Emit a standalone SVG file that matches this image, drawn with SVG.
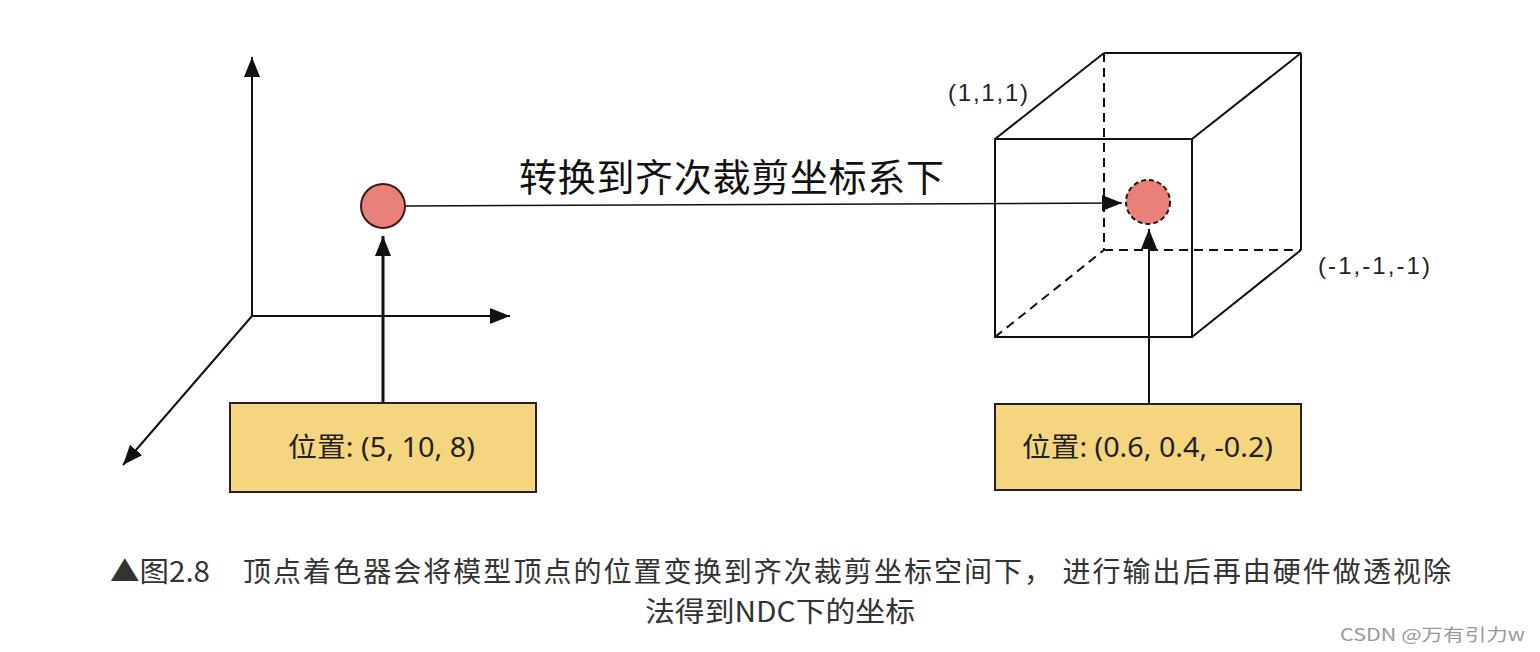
<svg xmlns="http://www.w3.org/2000/svg" width="1540" height="652" viewBox="0 0 1540 652">
<style>
.ax{stroke:#111;stroke-width:2;fill:none}
.edge{stroke:#111;stroke-width:2;fill:none}
.dash{stroke:#111;stroke-width:2;fill:none;stroke-dasharray:9 6}
.box{fill:#f6d580;stroke:#222;stroke-width:2}
.pt{fill:#e9807a;stroke:#3a1a18;stroke-width:2}
.ptd{fill:#e9807a;stroke:#2a1412;stroke-width:2;stroke-dasharray:5 3}
.lbl{font-family:"Noto Sans","Noto Sans CJK SC",sans-serif;font-size:27px;fill:#222}
.coord{font-family:"Liberation Sans",Arial,sans-serif;font-size:24px;fill:#222}
.cap{font-family:"Noto Sans CJK SC",sans-serif;font-size:28px;fill:#333}
.wm{font-family:"Noto Sans CJK SC",sans-serif;font-size:17px;fill:#999}
</style>
<defs>
<marker id="ah" markerUnits="userSpaceOnUse" markerWidth="22" markerHeight="18" refX="20" refY="8" orient="auto">
<path d="M0,0 L20,8 L0,16 Z" fill="#111"/>
</marker>
</defs>
<rect width="1540" height="652" fill="#fff"/>
<g id="axes">
<line class="ax" x1="252" y1="317" x2="252" y2="57" marker-end="url(#ah)"/>
<line class="ax" x1="251" y1="316" x2="510" y2="316" marker-end="url(#ah)"/>
<line class="ax" x1="252" y1="316" x2="123" y2="465" marker-end="url(#ah)"/>
</g>
<g id="cube">
<rect class="edge" x="995" y="139" width="197" height="198"/>
<line class="edge" x1="1104" y1="53" x2="1301" y2="53"/>
<line class="edge" x1="1301" y1="53" x2="1301" y2="250"/>
<line class="edge" x1="995" y1="139" x2="1104" y2="53"/>
<line class="edge" x1="1192" y1="139" x2="1301" y2="53"/>
<line class="edge" x1="1192" y1="337" x2="1301" y2="250"/>
<line class="dash" x1="1104" y1="53" x2="1104" y2="250"/>
<line class="dash" x1="1104" y1="250" x2="1301" y2="250"/>
<line class="dash" x1="995" y1="337" x2="1104" y2="250"/>
</g>
<g id="labels">
<text class="coord" x="948" y="101" textLength="80" lengthAdjust="spacing">(1,1,1)</text>
<text class="coord" x="1318" y="274" textLength="112" lengthAdjust="spacing">(-1,-1,-1)</text>
</g>
<g id="connectors">
<line x1="405" y1="206" x2="1122" y2="203" stroke="#111" stroke-width="1.6" marker-end="url(#ah)"/>
<line x1="383" y1="403" x2="383" y2="236" stroke="#111" stroke-width="3" marker-end="url(#ah)"/>
<line x1="1149" y1="404" x2="1149" y2="229" stroke="#111" stroke-width="2" marker-end="url(#ah)"/>
<text x="519" y="191" font-family="Noto Sans CJK SC,sans-serif" font-size="38" fill="#111" textLength="425" lengthAdjust="spacing">转换到齐次裁剪坐标系下</text>
</g>
<g id="point-left">
<circle class="pt" cx="383" cy="206" r="22"/>
</g>
<g id="point-right">
<circle class="ptd" cx="1148" cy="202" r="22"/>
</g>
<g id="box-left">
<rect class="box" x="230" y="403" width="306" height="89"/>
<text class="lbl" x="288" y="457" textLength="187" lengthAdjust="spacingAndGlyphs">位置: (5, 10, 8)</text>
</g>
<g id="box-right">
<rect class="box" x="995" y="404" width="306" height="86"/>
<text class="lbl" x="1022" y="457" textLength="251" lengthAdjust="spacingAndGlyphs">位置: (0.6, 0.4, -0.2)</text>
</g>
<g id="caption">
<text class="cap" x="110" y="582" textLength="100" lengthAdjust="spacingAndGlyphs">▲图2.8</text>
<text class="cap" x="243" y="582" textLength="1208" lengthAdjust="spacing">顶点着色器会将模型顶点的位置变换到齐次裁剪坐标空间下， 进行输出后再由硬件做透视除</text>
<text class="cap" x="645" y="622" textLength="270" lengthAdjust="spacingAndGlyphs">法得到NDC下的坐标</text>
<text class="wm" x="1340" y="641" textLength="185" lengthAdjust="spacingAndGlyphs">CSDN @万有引力w</text>
</g>
</svg>
